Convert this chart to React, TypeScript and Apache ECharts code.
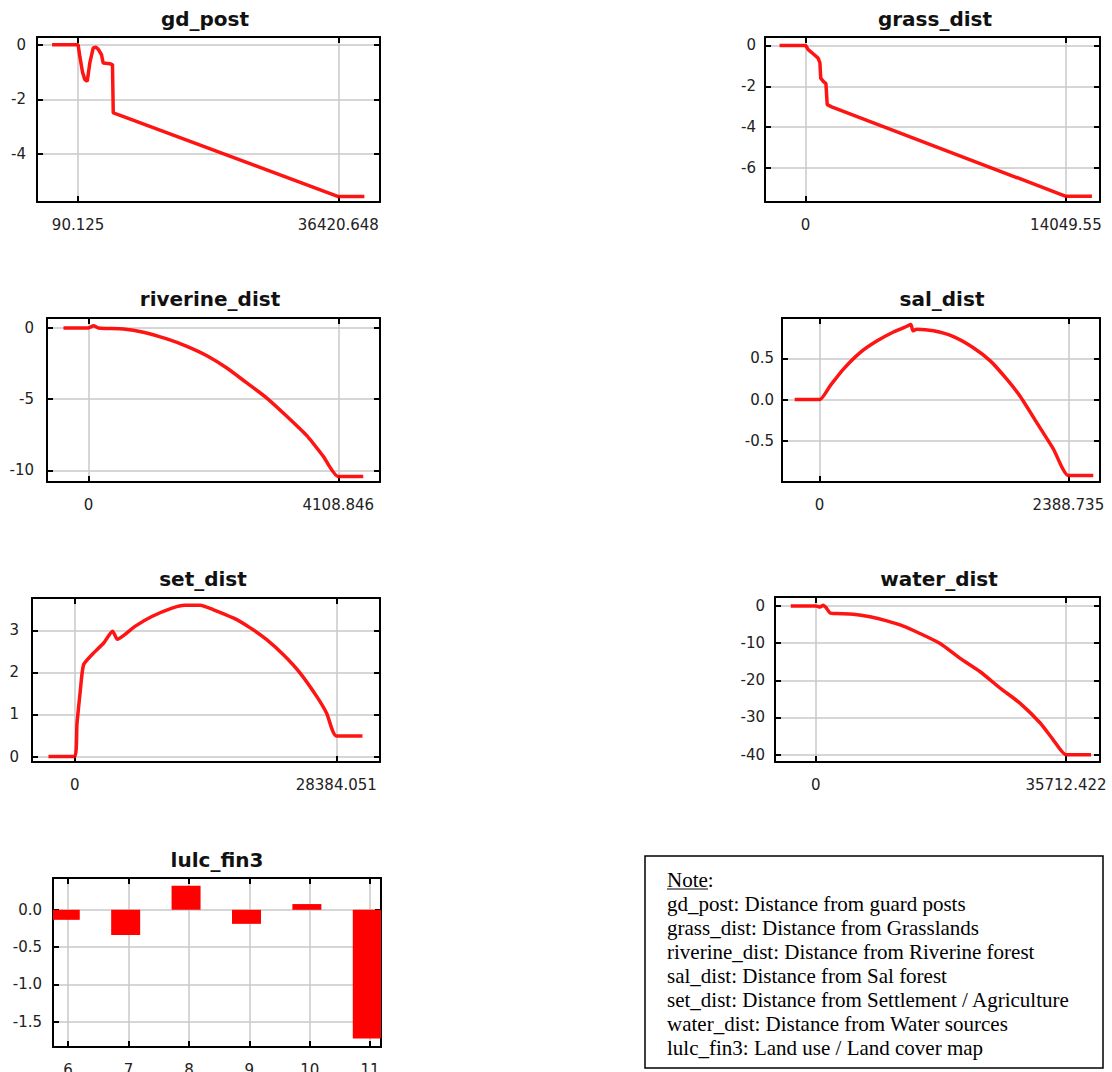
import React, { useEffect, useRef } from "react";
import * as echarts from "echarts";

// ---------------- DATA ----------------
const gdPostX = [-3543, 90.125, 326, 700, 1035, 1362, 1725, 2197, 2561, 2888, 3360, 3578, 4522, 4886, 4995, 5685, 36420.648, 40054];
const gdPostY = [0, 0, -0.43, -1.0, -1.28, -1.34, -0.67, -0.12, -0.09, -0.16, -0.37, -0.67, -0.70, -0.73, -2.50, -2.56, -5.56, -5.56];
const gdPostXTicks = [90.125, 36420.648];
const gdPostYTicks = [0, -2, -4];

const grassX = [-1405, 0, 140, 407, 674, 773, 815, 955, 1096, 1166, 1405, 14049.55, 15454.5];
const grassY = [0, 0, -0.21, -0.41, -0.62, -0.86, -1.6, -1.76, -1.87, -2.9, -3.01, -7.38, -7.38];
const grassXTicks = [0, 14049.55];
const grassYTicks = [0, -2, -4, -6];

const riverineX = [-411, 0, 82, 164, 575, 904, 1290, 1619, 1948, 2276, 2605, 2934, 3262, 3591, 3862, 4108.846, 4519.7];
const riverineY = [0, 0, 0.16, 0, -0.07, -0.3, -0.77, -1.29, -1.95, -2.81, -3.86, -4.92, -6.2, -7.56, -9.01, -10.42, -10.42];
const riverineXTicks = [0, 4108.846];
const riverineYTicks = [0, -5, -10];

const salX = [-239, 0, 103, 229, 389, 549, 709, 838, 877, 896, 934, 1094, 1285, 1476, 1639, 1799, 1925, 2085, 2245, 2388.735, 2627.6];
const salY = [0, 0, 0.17, 0.37, 0.57, 0.71, 0.82, 0.89, 0.91, 0.835, 0.855, 0.835, 0.765, 0.63, 0.47, 0.245, 0.04, -0.28, -0.6, -0.92, -0.92];
const salXTicks = [0, 2388.735];
const salYTicks = [0.5, 0, -0.5];

const setX = [-2838, 0, 255, 624, 965, 1873, 3151, 4116, 4627, 5138, 6585, 8373, 10559, 11921, 13624, 15072, 17257, 19046, 20834, 22650, 24439, 26255, 27334, 28384.051, 31222.5];
const setY = [0, 0, 0.79, 1.59, 2.18, 2.42, 2.7, 2.98, 2.79, 2.85, 3.1, 3.33, 3.53, 3.6, 3.6, 3.49, 3.29, 3.06, 2.78, 2.42, 1.99, 1.43, 1.03, 0.49, 0.49];
const setXTicks = [0, 28384.051];
const setYTicks = [0, 1, 2, 3];

const waterX = [-3571, 0, 607, 1071, 1571, 2036, 3000, 5357, 7750, 10142, 12499, 14642, 17749, 20606, 23463, 26320, 29177, 32034, 33891, 35712.422, 39283.7];
const waterY = [0, 0, -0.27, 0.2, -0.7, -1.9, -2.05, -2.2, -2.9, -4.0, -5.4, -7.2, -10.1, -14.1, -17.7, -22.1, -26.2, -31.5, -36.0, -40.0, -40.0];
const waterXTicks = [0, 35712.422];
const waterYTicks = [0, -10, -20, -30, -40];

const lulcCategories = [6, 7, 8, 9, 10, 11];
const lulcValues = [-0.134, -0.336, 0.323, -0.188, 0.077, -1.724];
const lulcYTicks = [0, -0.5, -1, -1.5];

const noteTitle = "Note";
const noteLines = [
  "gd_post: Distance from guard posts",
  "grass_dist: Distance from Grasslands",
  "riverine_dist: Distance from Riverine forest",
  "sal_dist: Distance from Sal forest",
  "set_dist: Distance from Settlement / Agriculture",
  "water_dist: Distance from Water sources",
  "lulc_fin3: Land use / Land cover map",
];

// ---------------- LAYOUT ----------------
const SANS = '"DejaVu Sans", "Liberation Sans", sans-serif';
const SERIF = '"Liberation Serif", "Times New Roman", serif';

type Panel = {
  title: string;
  xs: number[];
  ys: number[];
  xTicks: number[];
  yTicks: number[];
  yDec: number;
  frame: number[]; // L, T, R, B
  xFrac: number[];
  yRange: number[];
  titlePos: number[];
  yMargin: number;
  smooth: number;
};

const linePanels: Panel[] = [
  { title: "gd_post", xs: gdPostX, ys: gdPostY, xTicks: gdPostXTicks, yTicks: gdPostYTicks, yDec: 0,
    frame: [37, 37, 380, 202], xFrac: [-0.158, 1.16], yRange: [-5.76, 0.28], titlePos: [205, 19], yMargin: 11, smooth: 0 },
  { title: "grass_dist", xs: grassX, ys: grassY, xTicks: grassXTicks, yTicks: grassYTicks, yDec: 0,
    frame: [765, 37, 1100, 202], xFrac: [-0.156, 1.131], yRange: [-7.66, 0.41], titlePos: [935, 19], yMargin: 9, smooth: 0 },
  { title: "riverine_dist", xs: riverineX, ys: riverineY, xTicks: riverineXTicks, yTicks: riverineYTicks, yDec: 0,
    frame: [47, 318, 380, 482], xFrac: [-0.166, 1.167], yRange: [-10.81, 0.7], titlePos: [210, 299], yMargin: 13, smooth: 0.2 },
  { title: "sal_dist", xs: salX, ys: salY, xTicks: salXTicks, yTicks: salYTicks, yDec: 1,
    frame: [782, 318, 1100, 482], xFrac: [-0.151, 1.127], yRange: [-1.0, 0.99], titlePos: [942, 299], yMargin: 8, smooth: 0.2 },
  { title: "set_dist", xs: setX, ys: setY, xTicks: setXTicks, yTicks: setYTicks, yDec: 0,
    frame: [32, 598, 380, 762], xFrac: [-0.163, 1.167], yRange: [-0.13, 3.77], titlePos: [203, 579], yMargin: 13, smooth: 0.2 },
  { title: "water_dist", xs: waterX, ys: waterY, xTicks: waterXTicks, yTicks: waterYTicks, yDec: 0,
    frame: [775, 597, 1100, 762], xFrac: [-0.163, 1.136], yRange: [-41.98, 2.41], titlePos: [939, 579], yMargin: 10, smooth: 0.2 },
];

const lulcFrame = [53, 878, 381, 1047];
const lulcXRange = [5.75, 11.18];
const lulcYRange = [-1.837, 0.426];
const lulcTitlePos = [217, 860];

const noteBox = { x: 645, y: 856, w: 458, h: 212 };
const noteTextX = 667;
const noteFirstY = 880;
const noteLineGap = 24;

const axisLineStyle = { color: "#000", width: 2 };
const tickStyle = { color: "#000", width: 2 };
const gridLineStyle = { color: "#c8c8c8", width: 1.5 };
const labelBase = { fontFamily: SANS, fontSize: 15, color: "#222" };

function xAxes(gi: number, min: number, max: number, ticks: number[], fmt: (v: number) => string) {
  return [
    {
      type: "value", gridIndex: gi, position: "bottom", min, max,
      axisLine: { show: true, onZero: false, lineStyle: axisLineStyle },
      axisTick: { show: true, inside: true, length: 6, customValues: ticks, lineStyle: tickStyle },
      axisLabel: { show: true, customValues: ticks, formatter: fmt, margin: 15, ...labelBase },
      splitLine: { show: true, lineStyle: gridLineStyle },
    },
    {
      type: "value", gridIndex: gi, position: "top", min, max,
      axisLine: { show: true, onZero: false, lineStyle: axisLineStyle },
      axisTick: { show: true, inside: true, length: 6, customValues: ticks, lineStyle: tickStyle },
      axisLabel: { show: false },
      splitLine: { show: false },
    },
  ];
}

function yAxes(gi: number, min: number, max: number, ticks: number[], dec: number, margin: number) {
  const fmt = (v: number) => Number(v).toFixed(dec);
  return [
    {
      type: "value", gridIndex: gi, position: "left", min, max,
      axisLine: { show: true, onZero: false, lineStyle: axisLineStyle },
      axisTick: { show: true, inside: true, length: 6, customValues: ticks, lineStyle: tickStyle },
      axisLabel: { show: true, customValues: ticks, formatter: fmt, margin, ...labelBase },
      splitLine: { show: true, lineStyle: gridLineStyle },
    },
    {
      type: "value", gridIndex: gi, position: "right", min, max,
      axisLine: { show: true, onZero: false, lineStyle: axisLineStyle },
      axisTick: { show: true, inside: true, length: 6, customValues: ticks, lineStyle: tickStyle },
      axisLabel: { show: false },
      splitLine: { show: false },
    },
  ];
}

function titleText(text: string, pos: number[]) {
  return {
    type: "text", x: pos[0], y: pos[1], silent: true,
    style: { text, align: "center", verticalAlign: "middle", fontFamily: SANS, fontSize: 20, fontWeight: "bold", fill: "#111" },
  };
}

function buildOption() {
  const grid: any[] = [];
  const xAxis: any[] = [];
  const yAxis: any[] = [];
  const series: any[] = [];
  const elements: any[] = [];

  linePanels.forEach((p, i) => {
    const [L, T, R, B] = p.frame;
    grid.push({ left: L, top: T, width: R - L, height: B - T, outerBoundsMode: "none" });
    const span = p.xTicks[1] - p.xTicks[0];
    const xmin = p.xTicks[0] + p.xFrac[0] * span;
    const xmax = p.xTicks[0] + p.xFrac[1] * span;
    xAxis.push(...xAxes(i, xmin, xmax, p.xTicks, (v: number) => String(v)));
    yAxis.push(...yAxes(i, p.yRange[0], p.yRange[1], p.yTicks, p.yDec, p.yMargin));
    series.push({
      type: "line", xAxisIndex: 2 * i, yAxisIndex: 2 * i,
      data: p.xs.map((x, j) => [x, p.ys[j]]),
      showSymbol: false, symbol: "none", silent: true, clip: true,
      smooth: p.smooth,
      lineStyle: { color: "#ff0000", width: 3.5, opacity: 0.92 },
    });
    elements.push(titleText(p.title, p.titlePos));
  });

  // lulc bar panel
  const gi = linePanels.length;
  const [L, T, R, B] = lulcFrame;
  grid.push({ left: L, top: T, width: R - L, height: B - T, outerBoundsMode: "none" });
  xAxis.push(...xAxes(gi, lulcXRange[0], lulcXRange[1], lulcCategories, (v: number) => String(Math.round(v))));
  yAxis.push(...yAxes(gi, lulcYRange[0], lulcYRange[1], lulcYTicks, 1, 11));
  series.push({
    type: "custom", xAxisIndex: 2 * gi, yAxisIndex: 2 * gi, silent: true,
    data: lulcCategories.map((c, j) => [c, lulcValues[j]]),
    encode: { x: 0, y: 1 },
    renderItem: (params: any, api: any) => {
      const c = api.value(0);
      const v = api.value(1);
      const p0 = api.coord([c - 0.287, 0]);
      const p1 = api.coord([c + 0.193, v]);
      const rect = {
        x: Math.min(p0[0], p1[0]), y: Math.min(p0[1], p1[1]),
        width: Math.abs(p1[0] - p0[0]), height: Math.abs(p1[1] - p0[1]),
      };
      const cs = params.coordSys;
      const clipped = echarts.graphic.clipRectByRect(rect, { x: cs.x, y: cs.y, width: cs.width, height: cs.height });
      if (!clipped) return null;
      return { type: "rect", shape: clipped, style: { fill: "#ff0000" } };
    },
  });
  elements.push(titleText("lulc_fin3", lulcTitlePos));

  // note box
  elements.push({
    type: "rect", silent: true,
    shape: { x: noteBox.x, y: noteBox.y, width: noteBox.w, height: noteBox.h },
    style: { fill: "#fff", stroke: "#000", lineWidth: 1.5 },
  });
  elements.push({
    type: "text", x: noteTextX, y: noteFirstY, silent: true,
    style: { text: noteTitle + ":", align: "left", verticalAlign: "middle", fontFamily: SERIF, fontSize: 21, fill: "#000" },
  });
  elements.push({
    type: "line", silent: true,
    shape: { x1: noteTextX, y1: noteFirstY + 9, x2: noteTextX + 41, y2: noteFirstY + 9 },
    style: { stroke: "#000", lineWidth: 1 },
  });
  noteLines.forEach((t, k) => {
    elements.push({
      type: "text", x: noteTextX, y: noteFirstY + noteLineGap * (k + 1), silent: true,
      style: { text: t, align: "left", verticalAlign: "middle", fontFamily: SERIF, fontSize: 21, fill: "#000" },
    });
  });

  return {
    animation: false,
    backgroundColor: "#fff",
    grid, xAxis, yAxis, series,
    graphic: { elements },
  };
}

export default function App() {
  const ref = useRef<HTMLDivElement>(null);
  useEffect(() => {
    if (!ref.current) return;
    const chart = echarts.init(ref.current, undefined, { renderer: "svg" });
    chart.setOption(buildOption() as any);
    return () => chart.dispose();
  }, []);
  return (
    <div
      ref={ref}
      style={{ position: "absolute", left: 0, top: 0, width: 1112, height: 1072, background: "#fff" }}
    />
  );
}
